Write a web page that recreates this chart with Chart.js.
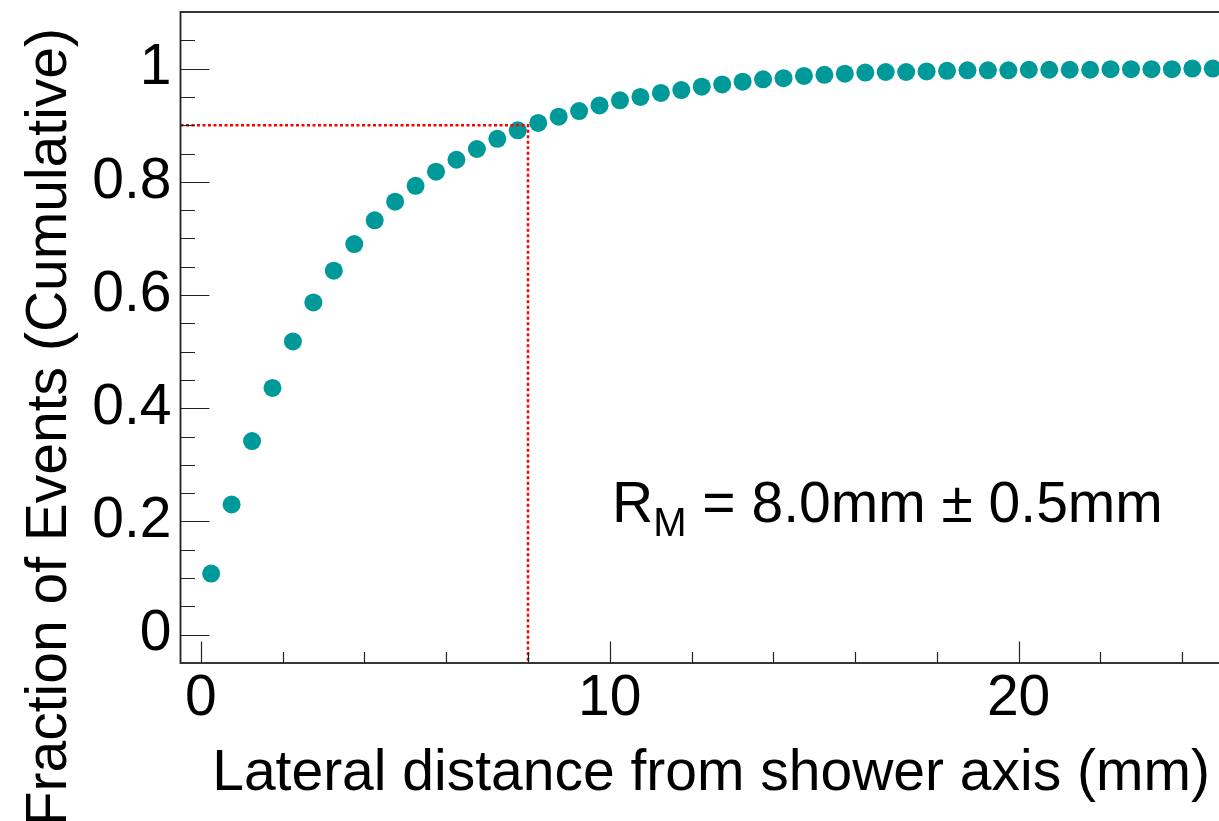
<!DOCTYPE html>
<html><head><meta charset="utf-8">
<script src="https://cdn.jsdelivr.net/npm/chart.js@4.4.1/dist/chart.umd.min.js"></script>
<style>
html,body{margin:0;padding:0;background:#fff;overflow:hidden;width:1219px;height:821px}
#wrap{position:absolute;left:0;top:0;width:1232px;height:821px}
</style></head><body>
<div id="wrap"><canvas id="c" width="1232" height="821"></canvas></div>
<script>
// ---- data ----
const xBins = [0.25,0.75,1.25,1.75,2.25,2.75,3.25,3.75,4.25,4.75,
               5.25,5.75,6.25,6.75,7.25,7.75,8.25,8.75,9.25,9.75,
               10.25,10.75,11.25,11.75,12.25,12.75,13.25,13.75,14.25,14.75,
               15.25,15.75,16.25,16.75,17.25,17.75,18.25,18.75,19.25,19.75,
               20.25,20.75,21.25,21.75,22.25,22.75,23.25,23.75,24.25,24.75];
const fraction = [0.108,0.230,0.342,0.436,0.518,0.587,0.643,0.690,0.732,0.765,
                  0.793,0.818,0.839,0.858,0.876,0.891,0.904,0.915,0.925,0.935,
                  0.944,0.950,0.957,0.962,0.968,0.972,0.977,0.981,0.983,0.987,
                  0.989,0.991,0.993,0.994,0.994,0.995,0.996,0.997,0.997,0.997,
                  0.998,0.998,0.998,0.998,0.999,0.999,0.999,0.999,1.000,1.000];
const guideX = [-0.5, 8.0, 8.0];
const guideY = [0.9, 0.9, -0.05];
const xTickValues = [0, 10, 20];
const xTickLabels = ['0', '10', '20'];
const xMinorTicks = [2, 4, 6, 8, 12, 14, 16, 18, 22, 24];
const yTickValues = [0, 0.2, 0.4, 0.6, 0.8, 1.0];
const yTickLabels = ['0', '0.2', '0.4', '0.6', '0.8', '1'];
const yMinorTicks = [0.05, 0.1, 0.15, 0.25, 0.3, 0.35, 0.45, 0.5, 0.55, 0.65, 0.7, 0.75, 0.85, 0.9, 0.95, 1.05];
const xTitle = 'Lateral distance from shower axis (mm)';
const yTitle = 'Fraction of Events (Cumulative)';
const annotMain = 'R';
const annotSub = 'M';
const annotRest = ' = 8.0mm \u00B1 0.5mm';

// ---- chart ----
const FONT = '"Liberation Sans", Arial, Helvetica, sans-serif';
const teal = 'rgb(0,153,153)';

const rootStyle = {
  id: 'rootStyle',
  afterDatasetsDraw(chart) {
    const ctx = chart.ctx, a = chart.chartArea;
    const xs = chart.scales.x, ys = chart.scales.y;
    ctx.save();
    ctx.strokeStyle = '#222';
    ctx.lineWidth = 1.2;
    ctx.beginPath();
    xTickValues.forEach(v => { const p = Math.round(xs.getPixelForValue(v)) + 0.5; ctx.moveTo(p, a.bottom); ctx.lineTo(p, a.bottom - 21.5); });
    xMinorTicks.forEach(v => { const p = Math.round(xs.getPixelForValue(v)) + 0.5; ctx.moveTo(p, a.bottom); ctx.lineTo(p, a.bottom - 11); });
    yTickValues.forEach(v => { const p = Math.round(ys.getPixelForValue(v)) + 0.5; ctx.moveTo(a.left, p); ctx.lineTo(a.left + 29, p); });
    yMinorTicks.forEach(v => { const p = Math.round(ys.getPixelForValue(v)) + 0.5; ctx.moveTo(a.left, p); ctx.lineTo(a.left + 14.5, p); });
    ctx.stroke();
    ctx.lineWidth = 1.8;
    ctx.strokeStyle = '#222';
    ctx.strokeRect(a.left, a.top, a.right - a.left, a.bottom - a.top);

    ctx.fillStyle = '#000';
    ctx.font = '57px ' + FONT;
    ctx.textAlign = 'right';
    ctx.textBaseline = 'alphabetic';
    ctx.fillText(xTitle, 1210, 790);

    ctx.save();
    ctx.translate(66, 28);
    ctx.rotate(-Math.PI / 2);
    ctx.textAlign = 'right';
    ctx.fillText(yTitle, 0, 0);
    ctx.restore();

    ctx.textAlign = 'left';
    let x = 612;
    const base = 522;
    ctx.font = '57px ' + FONT;
    ctx.fillText(annotMain, x, base);
    x += ctx.measureText(annotMain).width;
    ctx.font = '40px ' + FONT;
    ctx.fillText(annotSub, x, base + 14);
    x += ctx.measureText(annotSub).width;
    ctx.font = '57px ' + FONT;
    ctx.fillText(annotRest, x, base);
    ctx.restore();
  }
};

new Chart(document.getElementById('c'), {
  type: 'scatter',
  data: {
    datasets: [
      {
        type: 'line',
        data: guideX.map((v, i) => ({ x: v, y: guideY[i] })),
        borderColor: 'rgb(255,0,0)',
        borderWidth: 2.5,
        borderDash: [3, 2.5],
        pointRadius: 0,
        fill: false,
        tension: 0
      },
      {
        data: xBins.map((v, i) => ({ x: v, y: fraction[i] })),
        backgroundColor: teal,
        borderColor: teal,
        borderWidth: 0,
        pointRadius: 9,
        pointHoverRadius: 9
      }
    ]
  },
  options: {
    responsive: false,
    animation: false,
    devicePixelRatio: 1,
    layout: { padding: { top: 12, right: 6, left: 0, bottom: 0 } },
    plugins: { legend: { display: false }, tooltip: { enabled: false } },
    scales: {
      x: {
        type: 'linear', min: -0.5, max: 25,
        afterBuildTicks: s => { s.ticks = xTickValues.map(v => ({ value: v })); },
        afterFit: s => { s.height = 158; s.paddingLeft = 0; s.paddingRight = 0; s.paddingTop = 0; s.paddingBottom = 0; },
        ticks: {
          callback: v => { const i = xTickValues.indexOf(v); return i >= 0 ? xTickLabels[i] : ''; },
          font: { family: FONT, size: 57 }, color: '#000', padding: 2,
          maxRotation: 0, autoSkip: false
        },
        grid: { display: false, drawTicks: false },
        border: { display: false }
      },
      y: {
        type: 'linear', min: -0.05, max: 1.1,
        afterBuildTicks: s => { s.ticks = yTickValues.map(v => ({ value: v })); },
        afterFit: s => { s.width = 180.5; s.paddingLeft = 0; s.paddingRight = 0; s.paddingTop = 0; s.paddingBottom = 0; },
        ticks: {
          callback: v => { const i = yTickValues.indexOf(v); return i >= 0 ? yTickLabels[i] : ''; },
          font: { family: FONT, size: 57 }, color: '#000', padding: 9,
          autoSkip: false
        },
        grid: { display: false, drawTicks: false },
        border: { display: false }
      }
    }
  },
  plugins: [rootStyle]
});
</script>
</body></html>
